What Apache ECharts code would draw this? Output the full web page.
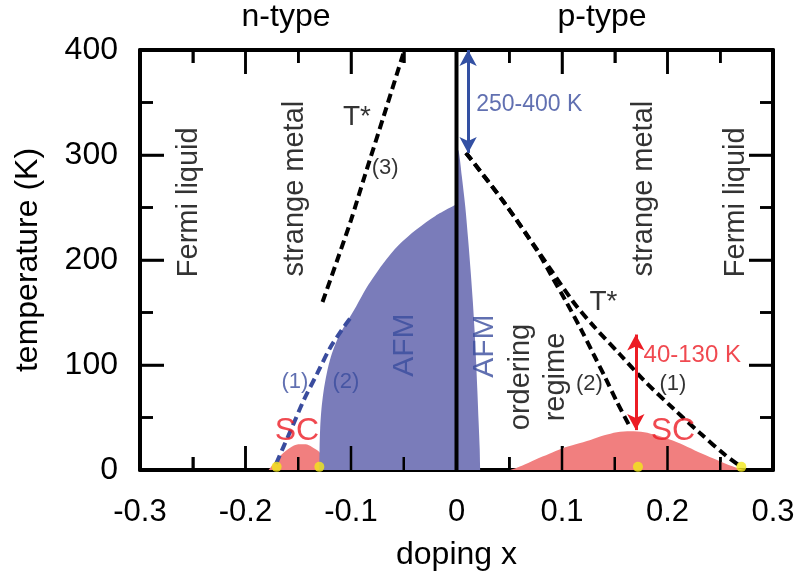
<!DOCTYPE html>
<html><head><meta charset="utf-8">
<script src="https://cdn.jsdelivr.net/npm/echarts@6/dist/echarts.min.js"></script>
<style>html,body{margin:0;padding:0;background:#fff}#c{width:799px;height:578px}</style>
</head><body><div id="c"></div>
<script>
// ---- data (doping x, temperature K) ----
const xTickValues = [-0.3, -0.2, -0.1, 0, 0.1, 0.2, 0.3];
const xTickLabels = ['-0.3', '-0.2', '-0.1', '0', '0.1', '0.2', '0.3'];
const xMinorTicks = [-0.25, -0.15, -0.05, 0.05, 0.15, 0.25];
const yTickValues = [0, 100, 200, 300, 400];
const yTickLabels = ['0', '100', '200', '300', '400'];
const yMinorTicks = [50, 150, 250, 350];

const scElectron = [[-0.178,0],[-0.175,4],[-0.171,9],[-0.165,15.5],[-0.158,21],[-0.150,24.5],[-0.143,24.5],[-0.137,22],[-0.131,18],[-0.126,12],[-0.122,5],[-0.120,0]];
const scHole = [[0.051,0],[0.062,4],[0.075,10],[0.088,15.5],[0.100,20.5],[0.113,24.5],[0.127,28.5],[0.140,33],[0.152,36],[0.165,37],[0.178,36],[0.190,33],[0.205,28],[0.219,22],[0.233,15.5],[0.247,9.5],[0.260,4],[0.272,0]];
const afmElectron = [[-0.1300,0],[-0.1298,20],[-0.1292,40],[-0.1280,58],[-0.1260,75],[-0.1230,92],[-0.1190,108],[-0.1140,122],[-0.1080,134],[-0.1020,144],[-0.0950,156],[-0.0850,174],[-0.0700,196],[-0.0550,214],[-0.0380,229],[-0.0200,242],[0,253]];
const afmHole = [[0,305],[0.002,304],[0.005,280],[0.0083,251],[0.011,220],[0.0135,188],[0.0155,160],[0.017,135],[0.0185,105],[0.0198,75],[0.021,45],[0.022,20],[0.0225,0]];
const tStarElectron = [[-0.127,160],[-0.113,200],[-0.100,238],[-0.087,280],[-0.069,337],[-0.050,398]];
const afmOnsetElectron = [[-0.171,6],[-0.164,22],[-0.157,38],[-0.145,66],[-0.132,92],[-0.120,116],[-0.109,133],[-0.099,147]];
const tStarHole1 = [[0.009,302],[0.045,255],[0.077,209],[0.110,161],[0.130,137],[0.155,110],[0.178,85],[0.205,59],[0.231,35],[0.255,14],[0.270,3]];
const tStarHole2 = [[0.009,302],[0.045,255],[0.077,208],[0.090,185],[0.103,162],[0.118,134],[0.130,110],[0.141,88],[0.152,65],[0.165,40]];
const endpointDots = [[-0.1705,3],[-0.130,3],[0.172,3],[0.270,3]];
const arrowBlue = [[0.011,400],[0.011,302]];
const arrowRed = [[0.170,129],[0.170,38]];
const zeroLine = [[0,0],[0,400]];

// annotations: [text, x, T, kind]
const annotations = [
  ['Fermi liquid', -0.2538, 255, 'region'],
  ['strange metal', -0.1532, 268, 'region'],
  ['T*', -0.0943, 336, 'tstar'],
  ['(3)', -0.0677, 288, 'numBlack'],
  ['(1)', -0.1532, 84, 'numBlue'],
  ['(2)', -0.1049, 84, 'numBlue'],
  ['SC', -0.1513, 37, 'sc'],
  ['AFM', -0.0487, 119, 'afm'],
  ['AFM', 0.0263, 118, 'afm'],
  ['ordering', 0.0614, 88.6, 'region'],
  ['regime', 0.0947, 88.6, 'region'],
  ['(2)', 0.126, 82, 'numBlack'],
  ['(1)', 0.2052, 82, 'numBlack'],
  ['SC', 0.2052, 37, 'sc'],
  ['T*', 0.1393, 160, 'tstar'],
  ['strange metal', 0.1773, 268, 'region'],
  ['Fermi liquid', 0.2647, 255, 'region'],
  ['250-400 K', 0.0187, 347.6, 'rangeBlue'],
  ['40-130 K', 0.1773, 109.5, 'rangeRed']
];

// ---- styles ----
const FONT = "'Liberation Sans', Arial, Helvetica, sans-serif";
const C_AFM = '#7a7cba', C_SC = '#f17f7f', C_RED = '#ec1c24', C_BLUE = '#3a4c9e', C_YEL = '#f2e81a';
const kindStyle = {
  region:   {color:'#000', fontSize:29, rotate:90, align:'center'},
  afm:      {color:C_BLUE, fontSize:30, rotate:90, align:'center'},
  tstar:    {color:'#000', fontSize:28, rotate:0, align:'center'},
  numBlack: {color:'#000', fontSize:22, rotate:0, align:'center'},
  numBlue:  {color:C_BLUE, fontSize:22, rotate:0, align:'center'},
  sc:       {color:C_RED, fontSize:32, rotate:0, align:'center'},
  rangeBlue:{color:C_BLUE, fontSize:23, rotate:0, align:'left'},
  rangeRed: {color:C_RED, fontSize:24, rotate:0, align:'left'}
};
const MAJOR_LEN = 24, MINOR_LEN = 13, TICK_W = 2.5;

function xAxisDef(pos, showLabel) {
  return {
    type:'value', min:-0.3, max:0.3, interval:0.1, position:pos,
    axisLine:{show:true, onZero:false, lineStyle:{color:'#000', width:4}},
    axisTick:{show:true, inside:true, length:MAJOR_LEN, lineStyle:{color:'#000', width:TICK_W}},
    minorTick:{show:true, splitNumber:2, length:MINOR_LEN, lineStyle:{color:'#000', width:TICK_W}},
    splitLine:{show:false},
    axisLabel:{show:showLabel, fontSize:31, color:'#000', fontFamily:FONT, margin:27,
      formatter:function(v){ const i = xTickValues.findIndex(t => Math.abs(t - v) < 1e-9); return i >= 0 ? xTickLabels[i] : ''; }},
    name: showLabel ? 'doping x' : '', nameLocation:'middle', nameGap:69,
    nameTextStyle:{fontSize:32, color:'#000', fontFamily:FONT}
  };
}
function yAxisDef(pos, showLabel) {
  return {
    type:'value', min:0, max:400, interval:100, position:pos,
    axisLine:{show:true, onZero:false, lineStyle:{color:'#000', width:4}},
    axisTick:{show:true, inside:true, length:MAJOR_LEN, lineStyle:{color:'#000', width:TICK_W}},
    minorTick:{show:true, splitNumber:2, length:MINOR_LEN, lineStyle:{color:'#000', width:TICK_W}},
    splitLine:{show:false},
    axisLabel:{show:showLabel, fontSize:32, color:'#000', fontFamily:FONT, margin:22,
      formatter:function(v){ const i = yTickValues.indexOf(Math.round(v)); return i >= 0 ? yTickLabels[i] : ''; }},
    name: showLabel ? 'temperature (K)' : '', nameLocation:'middle', nameGap:96,
    nameTextStyle:{fontSize:32, color:'#000', fontFamily:FONT}
  };
}

function areaSeries(data, color) {
  return {type:'line', data:data, smooth:0.3, symbol:'none', z:2,
    lineStyle:{width:0, color:color}, areaStyle:{color:color, opacity:1}};
}
function dashSeries(data, color) {
  return {type:'line', data:data, smooth:0.3, symbol:'none', z:4,
    lineStyle:{width:4, color:color, type:[9,5]}};
}
function arrowSeries(pts, color) {
  return {type:'line', data:[], z:6,
    markLine:{silent:true, symbol:['arrow','arrow'], symbolSize:[13,16],
      label:{show:false}, lineStyle:{color:color, width:3, type:'solid'},
      emphasis:{disabled:true},
      data:[[{coord:pts[0]},{coord:pts[1]}]]}};
}

function titleText(txt, x) {
  return {type:'text', x:x, y:17, z:100, silent:true,
    style:{text:txt, font:'32px ' + FONT, fill:'#000', align:'center', verticalAlign:'middle', textAlign:'center', textVerticalAlign:'middle'}};
}

const chart = echarts.init(document.getElementById('c'), null, {renderer:'canvas'});
chart.setOption({
  animation:false,
  backgroundColor:'#fff',
  textStyle:{fontFamily:FONT},
  grid:{left:140, right:26, top:50, bottom:108, containLabel:false},
  xAxis:[xAxisDef('bottom', true), xAxisDef('top', false)],
  yAxis:[yAxisDef('left', true), yAxisDef('right', false)],
  graphic:[titleText('n-type', 286), titleText('p-type', 602)],
  series:[
    areaSeries(scElectron, C_SC),
    areaSeries(scHole, C_SC),
    areaSeries(afmElectron, C_AFM),
    areaSeries(afmHole, C_AFM),
    dashSeries(tStarElectron, '#000'),
    dashSeries(afmOnsetElectron, C_BLUE),
    dashSeries(tStarHole1, '#000'),
    dashSeries(tStarHole2, '#000'),
    {type:'line', data:zeroLine, symbol:'none', z:5, lineStyle:{color:'#000', width:4}},
    arrowSeries(arrowBlue, '#3350a3'),
    arrowSeries(arrowRed, C_RED),
    {type:'scatter', data:endpointDots, symbolSize:10, z:7, itemStyle:{color:C_YEL}},
    {type:'scatter', z:8, symbolSize:0, silent:true,
      data:annotations.map(function(a){
        const s = kindStyle[a[3]];
        return {value:[a[1], a[2]], label:{show:true, position:'inside', formatter:a[0],
          color:s.color, fontSize:s.fontSize, rotate:s.rotate, align:s.align, verticalAlign:'middle', fontFamily:FONT}};
      })}
  ]
});

// frame ticks (all four sides, pointing inward), positioned through the axis scales
(function addFrameTicks(){
  const px = function(x, y){ return chart.convertToPixel({gridIndex:0}, [x, y]); };
  const lo = px(-0.3, 0), hi = px(0.3, 400);
  const L = lo[0], B = lo[1], R = hi[0], T = hi[1];
  const els = [titleText('n-type', 286), titleText('p-type', 602)];
  function seg(x1, y1, x2, y2){
    els.push({type:'line', z:100, silent:true, shape:{x1:x1, y1:y1, x2:x2, y2:y2},
      style:{stroke:'#000', lineWidth:TICK_W}});
  }
  xTickValues.forEach(function(v){ const p = px(v, 0)[0]; seg(p, B, p, B - MAJOR_LEN); seg(p, T, p, T + MAJOR_LEN); });
  xMinorTicks.forEach(function(v){ const p = px(v, 0)[0]; seg(p, B, p, B - MINOR_LEN); seg(p, T, p, T + MINOR_LEN); });
  yTickValues.forEach(function(v){ const p = px(0, v)[1]; seg(L, p, L + MAJOR_LEN, p); seg(R, p, R - MAJOR_LEN, p); });
  yMinorTicks.forEach(function(v){ const p = px(0, v)[1]; seg(L, p, L + MINOR_LEN, p); seg(R, p, R - MINOR_LEN, p); });
  chart.setOption({graphic: els}, {replaceMerge:['graphic']});
})();
</script>
